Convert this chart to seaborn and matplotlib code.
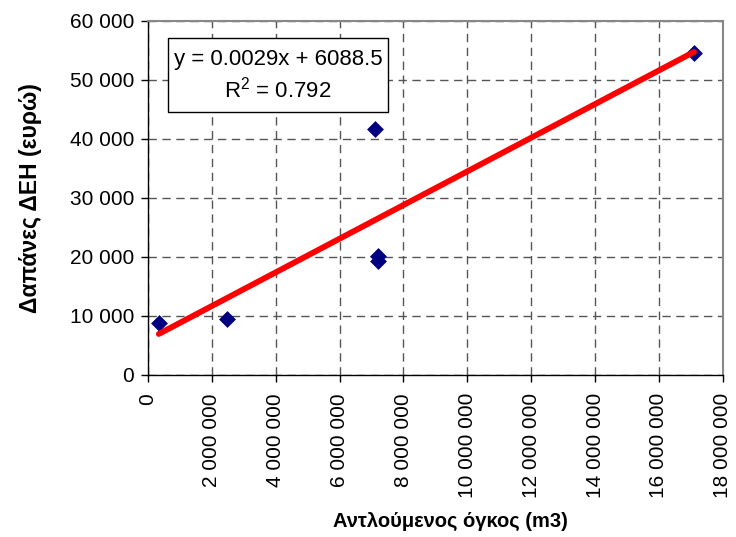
import numpy as np
import pandas as pd
import seaborn as sns
import matplotlib
matplotlib.use("Agg")
import matplotlib.pyplot as plt
from matplotlib.patches import Rectangle
from matplotlib.ticker import FuncFormatter, MultipleLocator

# Data
volume_m3 = [340000, 2470000, 7100000, 7200000, 7200000, 17100000]
cost_eur = [8800, 9500, 41700, 20200, 19300, 54500]
slope = 0.0029
intercept = 6088.5
r2 = 0.792
x_label = "Αντλούμενος όγκος (m3)"
y_label = "Δαπάνες ΔΕΗ (ευρώ)"

sns.set_theme(style="white")
plt.rcParams["font.family"] = ["Liberation Sans", "DejaVu Sans"]
plt.rcParams["text.color"] = "#000000"
plt.rcParams["axes.labelcolor"] = "#000000"

df = pd.DataFrame({"x": volume_m3, "y": cost_eur})

fig = plt.figure(figsize=(7.36, 5.37), dpi=100)
ax = fig.add_axes([0.201, 0.3017, 0.781, 0.6593])

sns.regplot(data=df, x="x", y="y", ax=ax, scatter=False, ci=None, truncate=True,
            line_kws=dict(color="#ff0000", linewidth=4.2, zorder=4,
                          solid_capstyle="round"))
sns.scatterplot(data=df, x="x", y="y", ax=ax, marker="D", color="#000080",
                s=65, edgecolor="#000080", linewidth=0.5, zorder=3)

ax.set_xlim(0, 18000000)
ax.set_ylim(0, 60000)
ax.xaxis.set_major_locator(MultipleLocator(2000000))
ax.yaxis.set_major_locator(MultipleLocator(10000))
fmt = FuncFormatter(lambda v, p: f"{int(round(v)):,}".replace(",", " "))
ax.xaxis.set_major_formatter(fmt)
ax.yaxis.set_major_formatter(fmt)

ax.grid(True, which="major", color="#555555", linestyle=(0, (6, 4)), linewidth=1.0)
ax.set_axisbelow(True)

for side in ["top", "right"]:
    ax.spines[side].set_color("#888888")
    ax.spines[side].set_linewidth(1.5)
for side in ["left", "bottom"]:
    ax.spines[side].set_color("#000000")
    ax.spines[side].set_linewidth(1.0)

ax.tick_params(axis="both", which="major", direction="out", length=5, width=1,
               color="#000000", labelsize=15, labelcolor="#000000",
               bottom=True, left=True, pad=5)
ax.tick_params(axis="x", labelrotation=90, pad=8)

ax.set_xlabel(x_label, fontsize=14.5, fontweight="bold", va="center", color="#000000")
ax.xaxis.set_label_coords(0.527, -0.415)
ax.set_ylabel(y_label, fontsize=16.5, fontweight="bold", va="center", color="#000000")
ax.yaxis.set_label_coords(-0.205, 0.5)

ax.add_patch(Rectangle((0.0348, 0.743), 0.382, 0.209, transform=ax.transAxes,
                       facecolor="white", edgecolor="#000000", linewidth=1.0,
                       zorder=5))
ax.text(0.226, 0.845, f"y = {slope}x + {intercept}\n$\\mathregular{{R^2}}$ = {r2}",
        transform=ax.transAxes, ha="center", va="center", fontsize=16,
        linespacing=1.3, zorder=6, color="#000000")

fig.savefig("out.png", dpi=100)
